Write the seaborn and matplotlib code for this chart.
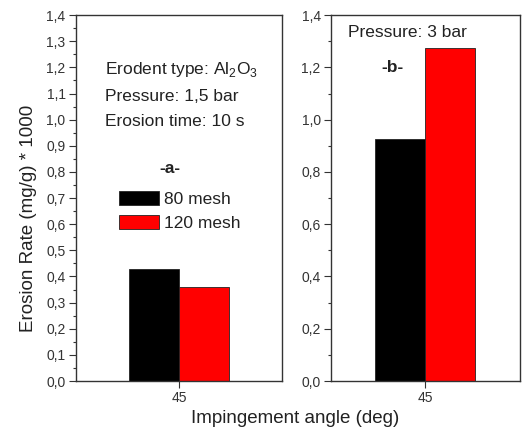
import seaborn as sns
import pandas as pd
import matplotlib.pyplot as plt
from matplotlib.ticker import MultipleLocator, FuncFormatter

angles = ["45"]
meshes = ["80 mesh", "120 mesh"]
rate_a = [0.43, 0.36]   # 1,5 bar
rate_b = [0.925, 1.275]  # 3 bar
colors = ["black", "red"]

df_a = pd.DataFrame({"angle": angles * 2, "mesh": meshes, "rate": rate_a})
df_b = pd.DataFrame({"angle": angles * 2, "mesh": meshes, "rate": rate_b})

sns.set_style("ticks")
plt.rcParams['font.family'] = ['Liberation Sans', 'DejaVu Sans']
plt.rcParams['text.color'] = '#222222'

fig = plt.figure(figsize=(5.23, 4.32), dpi=100)
ax1 = fig.add_axes([0.1453, 0.118, 0.394, 0.847])
ax2 = fig.add_axes([0.633, 0.118, 0.361, 0.847])

comma = FuncFormatter(lambda v, p: f"{v:.1f}".replace(".", ","))

for ax, df, w in [(ax1, df_a, 0.485), (ax2, df_b, 0.53)]:
	sns.barplot(data=df, x="angle", y="rate", hue="mesh", palette=colors,
		saturation=1, width=w, edgecolor="#222222", linewidth=0.6, ax=ax,
		legend=(ax is ax1))
	ax.set_xlim(-0.5, 0.5)
	ax.set_ylim(0, 1.4)
	ax.set_xlabel("")
	ax.set_ylabel("")
	ax.yaxis.set_major_formatter(comma)
	for s in ax.spines.values():
		s.set_color("#333333")
		s.set_linewidth(1.0)
	ax.tick_params(axis="both", which="both", direction="out", colors="#333333",
		labelsize=10, width=0.8, pad=2.5)
	ax.tick_params(axis="both", which="major", length=5)
	ax.tick_params(axis="y", which="minor", length=2.5)

ax1.yaxis.set_major_locator(MultipleLocator(0.1))
ax1.yaxis.set_minor_locator(MultipleLocator(0.05))
ax2.yaxis.set_major_locator(MultipleLocator(0.2))
ax2.yaxis.set_minor_locator(MultipleLocator(0.1))

fs = 12.5
# panel a annotations
ax1.text(0.141, 0.838, r"Erodent type: Al$_\mathregular{2}$O$_\mathregular{3}$",
	transform=ax1.transAxes, fontsize=fs, va="baseline")
ax1.text(0.141, 0.765, "Pressure: 1,5 bar", transform=ax1.transAxes, fontsize=fs, va="baseline")
ax1.text(0.141, 0.697, "Erosion time: 10 s", transform=ax1.transAxes, fontsize=fs, va="baseline")
ax1.text(0.456, 0.568, "-a-", transform=ax1.transAxes, fontsize=fs, fontweight="bold",
	ha="center", va="baseline")
leg = ax1.legend(loc="upper left", bbox_to_anchor=(0.209, 0.518), frameon=False,
	fontsize=fs, handlelength=2.3, handleheight=0.86, handletextpad=0.28,
	labelspacing=0.42, borderaxespad=0, borderpad=0, title=None)

# panel b annotations
ax2.text(0.09, 0.94, "Pressure: 3 bar", transform=ax2.transAxes, fontsize=fs, va="baseline")
ax2.text(0.323, 0.845, "-b-", transform=ax2.transAxes, fontsize=fs, fontweight="bold",
	ha="center", va="baseline")

fig.text(0.054, 0.495, "Erosion Rate (mg/g) * 1000", rotation=90, fontsize=13.5,
	ha="center", va="center")
fig.text(0.564, 0.032, "Impingement angle (deg)", fontsize=13.5, ha="center", va="center")

fig.savefig("out.png", dpi=100)
